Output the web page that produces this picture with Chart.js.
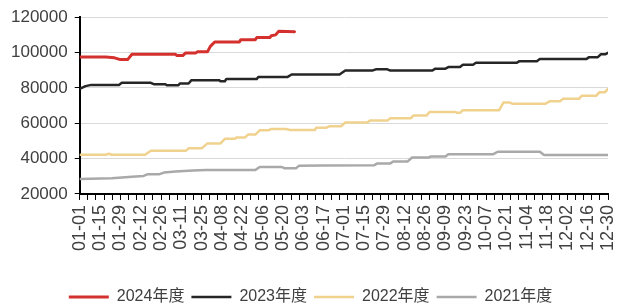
<!DOCTYPE html>
<html>
<head>
<meta charset="utf-8">
<script src="https://cdn.jsdelivr.net/npm/chart.js@4.4.0/dist/chart.umd.min.js"></script>
<style>
  html, body { margin: 0; padding: 0; background: #fff; }
  #wrap { width: 617px; height: 305px; }
</style>
</head>
<body>
<div id="wrap"><canvas id="myChart"></canvas></div>
<script>
// series names (legend order)
const seriesNames = ['2024年度', '2023年度', '2022年度', '2021年度'];

// x = day of year (0 = 01-01), y = value at the step corners
const days2024 = [0, 18, 24, 28, 33, 36, 66, 67, 71, 73, 80, 81, 88, 90, 93, 110, 111, 121, 122, 131, 132, 135, 137, 148];
const vals2024 = [97500, 97500, 97000, 96000, 96000, 99000, 99000, 98300, 98300, 99800, 99800, 100400, 100400, 103500, 106000, 106000, 107300, 107300, 108500, 108500, 109500, 110000, 112000, 111800];

const days2023 = [0, 4, 8, 27, 29, 49, 51, 59, 60, 68, 69, 75, 77, 96, 97, 100, 101, 122, 123, 143, 146, 179, 183, 202, 204, 212, 214, 243, 245, 252, 254, 262, 264, 271, 273, 301, 303, 315, 317, 349, 351, 357, 359, 362, 364];
const vals2023 = [79500, 81000, 81700, 81700, 82900, 82900, 82100, 82100, 81500, 81500, 82500, 82500, 84400, 84400, 83800, 83800, 85000, 85000, 86100, 86100, 87600, 87600, 89900, 89900, 90500, 90500, 89800, 89800, 90900, 90900, 91800, 91800, 93100, 93100, 94200, 94200, 95100, 95100, 96300, 96300, 97400, 97400, 99000, 99000, 99800];

const days2022 = [0, 18, 20, 22, 45, 49, 73, 75, 84, 88, 97, 100, 107, 108, 114, 116, 121, 124, 130, 132, 142, 145, 162, 163, 170, 172, 180, 183, 198, 200, 212, 214, 228, 230, 239, 241, 259, 260, 262, 264, 289, 292, 296, 298, 321, 324, 331, 333, 344, 346, 356, 358, 362, 364];
const vals2022 = [42200, 42200, 42800, 42200, 42200, 44400, 44400, 45800, 45800, 48600, 48600, 51200, 51200, 52000, 52000, 53600, 53600, 56000, 56000, 56800, 56800, 56200, 56200, 57500, 57500, 58300, 58300, 60400, 60400, 61500, 61500, 62800, 62800, 64400, 64400, 66400, 66400, 65900, 65900, 67400, 67400, 71800, 71800, 71100, 71100, 72500, 72500, 73800, 73800, 75600, 75600, 77500, 77600, 79500];

const days2021 = [0, 22, 36, 44, 47, 55, 58, 66, 78, 87, 121, 124, 139, 141, 149, 151, 167, 203, 205, 214, 216, 226, 229, 240, 242, 252, 254, 285, 288, 317, 320, 364];
const vals2021 = [28400, 28900, 29700, 30200, 31200, 31200, 32100, 32700, 33300, 33500, 33500, 35300, 35300, 34600, 34600, 35900, 36100, 36300, 37300, 37300, 38400, 38400, 40600, 40600, 41200, 41200, 42500, 42500, 43900, 43900, 42000, 42000];

// x-axis labels, one every 14 days starting 01-01
const tickLabels = ['01-01', '01-15', '01-29', '02-12', '02-26', '03-11', '03-25', '04-08', '04-22', '05-06', '05-20', '06-03', '06-17', '07-01', '07-15', '07-29', '08-12', '08-26', '09-09', '09-23', '10-07', '10-21', '11-04', '11-18', '12-02', '12-16', '12-30'];
const labelStep = 14;
const minorStep = 5.6;
const lastDay = 364;

// y-axis ticks
const yTicks = [20000, 40000, 60000, 80000, 100000, 120000];

const colors = ['#d4302e', '#262626', '#f0d28e', '#a9a9a9'];
const widths = [3, 2.5, 2.5, 2.5];

function toPoints(days, vals) {
    return days.map((d, i) => ({ x: d, y: vals[i] }));
}

const allDays = [days2024, days2023, days2022, days2021];
const allVals = [vals2024, vals2023, vals2022, vals2021];

const FONT = "'Liberation Sans', 'Noto Sans CJK SC', sans-serif";

const ctx = document.getElementById('myChart').getContext('2d');
const chart = new Chart(ctx, {
    type: 'line',
    data: {
        datasets: seriesNames.map((name, i) => ({
            label: name,
            data: toPoints(allDays[i], allVals[i]),
            borderColor: colors[i],
            backgroundColor: colors[i],
            borderWidth: widths[i],
            pointRadius: 0,
            tension: 0,
            borderCapStyle: 'round',
            borderJoinStyle: 'round'
        }))
    },
    options: {
        responsive: true,
        maintainAspectRatio: false,
        animation: false,
        layout: { padding: { top: 8, right: 0, left: 4, bottom: -10 } },
        scales: {
            x: {
                type: 'linear',
                min: 0,
                max: lastDay,
                afterBuildTicks: (scale) => {
                    const map = new Map();
                    for (let i = 0; i * minorStep <= lastDay + 0.01; i++) {
                        const v = Math.round(i * minorStep * 100) / 100;
                        map.set(v, { value: v, mark: true });
                    }
                    tickLabels.forEach((t, i) => {
                        const v = i * labelStep;
                        const e = map.get(v) || { value: v, mark: false };
                        e.txt = t;
                        map.set(v, e);
                    });
                    scale.ticks = [...map.values()].sort((a, b) => a.value - b.value);
                },
                afterFit: (scale) => {
                    scale.height += 26;
                    scale.paddingRight = 9;
                },
                ticks: {
                    autoSkip: false,
                    minRotation: 90,
                    maxRotation: 90,
                    padding: 5,
                    color: '#404040',
                    font: { family: FONT, size: 18 },
                    callback: (value, index, ticks) => ticks[index].txt || ''
                },
                grid: {
                    drawOnChartArea: false,
                    drawTicks: true,
                    tickLength: 6,
                    tickWidth: 1,
                    tickColor: (c) => (c.tick && c.tick.mark) ? '#000' : 'rgba(0,0,0,0)'
                },
                border: { color: '#000', width: 2 }
            },
            y: {
                min: yTicks[0],
                max: yTicks[yTicks.length - 1],
                afterBuildTicks: (scale) => {
                    scale.ticks = yTicks.map(v => ({ value: v }));
                },
                ticks: {
                    padding: 7,
                    color: '#404040',
                    font: { family: FONT, size: 17 },
                    callback: (v) => String(v)
                },
                grid: {
                    color: '#d9d9d9',
                    lineWidth: 1,
                    tickLength: 5,
                    tickColor: '#000'
                },
                border: { color: '#000', width: 2 }
            }
        },
        plugins: {
            legend: {
                position: 'bottom',
                labels: {
                    usePointStyle: true,
                    pointStyle: 'line',
                    pointStyleWidth: 40,
                    padding: 7,
                    color: '#404040',
                    font: { family: FONT, size: 16 }
                }
            },
            tooltip: { enabled: false }
        }
    }
});
</script>
</body>
</html>
